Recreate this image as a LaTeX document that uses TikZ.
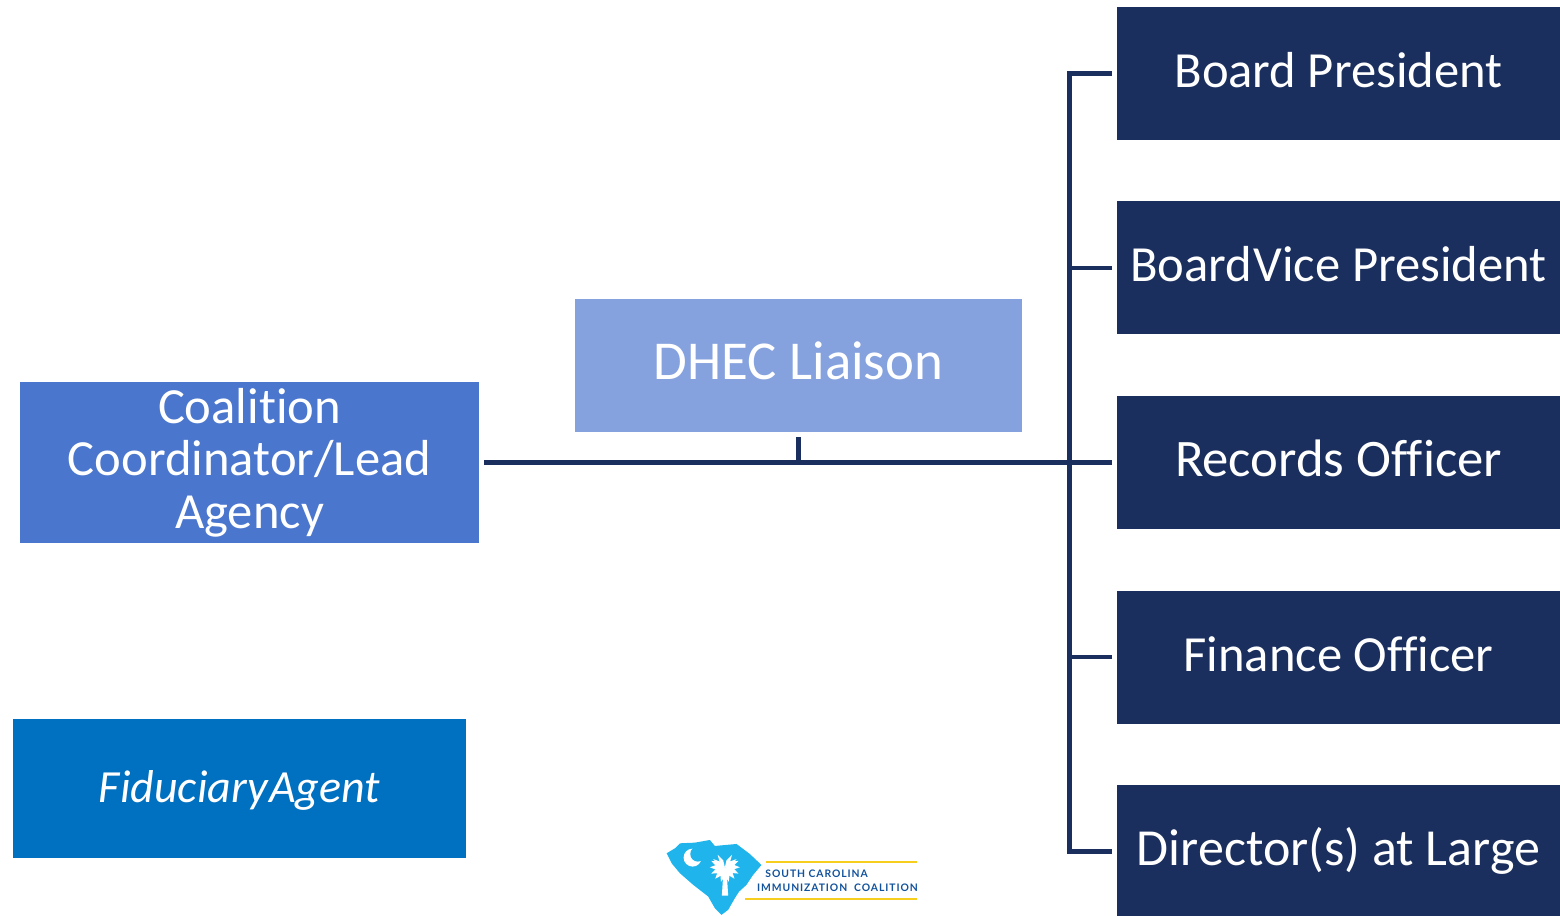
\documentclass[tikz,border=0pt]{standalone}
\usepackage{fontspec}
\setmainfont[Ligatures=NoCommon]{Carlito}
\newfontfamily\logofont[LetterSpace=9]{Lato}
\usetikzlibrary{positioning, calc}

\definecolor{navybox}{HTML}{1B2F5E}
\definecolor{liaisonblue}{HTML}{86A2DE}
\definecolor{leadblue}{HTML}{4A76CE}
\definecolor{agentblue}{HTML}{0070C0}
\definecolor{logosky}{HTML}{1FB5EC}
\definecolor{logoyellow}{HTML}{F7CE1E}
\definecolor{logonavy}{HTML}{12529B}

\tikzset{
	chartbox/.style={text=white, inner sep=0pt, outer sep=0.05cm, font=\fontsize{14.4}{15}\selectfont},
	officerbox/.style={chartbox, fill=navybox, minimum width=4.43cm, minimum height=1.33cm, text height=0.4cm, text depth=0.12cm},
	chartline/.style={draw=navybox, line width=1.3pt},
	logoline/.style={draw=logoyellow, line width=0.5pt},
	logotext/.style={text=logonavy, inner sep=0pt, anchor=base west, font=\logofont\bfseries\fontsize{2.95}{4}\selectfont}
}

\begin{document}
\begin{tikzpicture}

	\useasboundingbox (0,0) rectangle (15.6,9.15);

	% Board column
	\node[officerbox, font=\fontsize{15}{15}\selectfont] (records) at (13.385,4.525) {Records Officer};
	\node[officerbox] (board) at ($(records) + (0,3.89)$) {Board President};
	\node[officerbox] (vice) at ($(records) + (0,1.945)$) {Board\kern-0.2em{} Vice President};
	\node[officerbox] (finance) at ($(records) + (0,-1.945)$) {Finance Officer};
	\node[officerbox, font=\fontsize{14.8}{15}\selectfont] (director) at ($(records) + (0,-3.89)$) {Director(s) at Large};

	% Left side
	\node[chartbox, fill=leadblue, minimum width=4.59cm, minimum height=1.61cm, align=center] (lead) at (2.495,4.525) {Coalition\\Coordinator/Lead\\Agency};
	\node[chartbox, fill=liaisonblue, minimum width=4.47cm, minimum height=1.33cm, text height=0.4cm, text depth=0.12cm, font=\fontsize{15.6}{15}\selectfont] (liaison) at (7.985,5.495) {DHEC Liaison};
	\node[chartbox, fill=agentblue, minimum width=4.53cm, minimum height=1.39cm, text height=0.4cm, text depth=0.12cm, font=\fontsize{13.1}{15}\selectfont\itshape] (agent) at (2.395,1.265) {Fiduciary\kern-0.2em{} Agent};

	% Connections
	\coordinate (spine) at (10.695,4.525);
	\draw[chartline] (lead.east) -- (records.west);
	\draw[chartline] (liaison.south) -- (liaison.south |- lead.east);
	\draw[chartline] (board.west) -| (spine) |- (director.west);
	\draw[chartline] (vice.west) -- (vice.west -| spine);
	\draw[chartline] (finance.west) -- (finance.west -| spine);

	% Logo, in units of a third of a pixel
	\begin{scope}[shift={(6.5,0.85)}, x=0.003333cm, y=-0.003333cm]
		\fill[logosky] (50,70) -- (75,55) -- (90,40) -- (135,38) -- (180,30) -- (195,48) -- (260,42) -- (300,72) -- (335,105) -- (310,135) -- (290,165) -- (268,185) -- (255,205) -- (235,240) -- (215,255) -- (195,235) -- (175,200) -- (130,165) -- (90,130) -- (65,100) -- cycle;
		\fill[white] (128,83) circle (27);
		\fill[logosky] (144,72) circle (23);
		\fill[white] (216,197) -- (221,120) -- (230,120) -- (235,197) -- cycle;
		\foreach \angle in {-25,0,25,50,75,90,105,130,155,180,205}
			\fill[white, rotate around={-\angle:(225,112)}] (225,112) -- (248,103) -- (270,112) -- (248,120) -- cycle;
		\foreach \angle in {35,60,120,145}
			\fill[white, rotate around={\angle:(225,112)}] (225,112) -- (245,106) -- (268,112) -- (245,118) -- cycle;
		\draw[logoline] (348,96) -- (803,96);
		\draw[logoline] (285,208) -- (803,208);
		\node[logotext] (logotop) at (345,143) {SOUTH CAROLINA};
		\node[logotext] (logobottom) at (320,186) {IMMUNIZATION\ \ COALITION};
	\end{scope}

\end{tikzpicture}
\end{document}
